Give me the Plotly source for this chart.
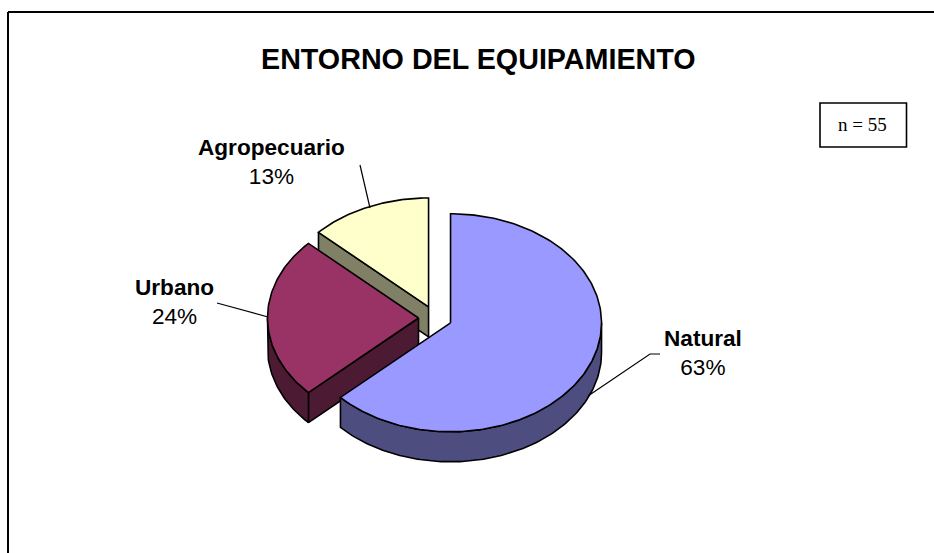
import numpy as np
import plotly.graph_objects as go

categories = ["Natural", "Urbano", "Agropecuario"]
values = [63, 24, 13]
top_colors = ["#9999FF", "#993366", "#FFFFCC"]
side_colors = ["#4D4D80", "#4D1A33", "#808066"]
title_text = "ENTORNO DEL EQUIPAMIENTO"
note_text = "n = 55"

# Pie geometry on a pixel-like data axis
CX, CY, RX, RY, DEPTH, PULL = 435.2, 318, 151, 109, 30, 16.7
LINE = dict(color="black", width=1.6)

def pt(c, a):
    r = np.radians(a)
    return c[0] + RX * np.sin(r), c[1] - RY * np.cos(r)

def arc(c, a0, a1):
    ang = np.linspace(a0, a1, max(int(abs(a1 - a0)), 2) + 1)
    return pt(c, ang)

fig = go.Figure()

def poly(x, y, color, name):
    fig.add_trace(go.Scatter(x=list(x), y=list(y), mode="lines", fill="toself",
                             fillcolor=color, line=LINE, name=name,
                             hoverinfo="name", showlegend=False))

# Slices are painted back to front: last slice first
total = sum(values)
edges = np.cumsum([0] + values) / total * 360
order = [2, 1, 0]
for i in order:
    a0, a1 = edges[i], edges[i + 1]
    mid = np.radians((a0 + a1) / 2)
    c = (CX + PULL * np.sin(mid), CY - PULL * RY / RX * np.cos(mid))
    name = categories[i]
    # cut face at the slice's starting edge, when it faces the viewer
    if 180 < a0 < 360:
        ex, ey = pt(c, a0)
        poly([c[0], ex, ex, c[0], c[0]],
             [c[1], ey, ey + DEPTH, c[1] + DEPTH, c[1]], side_colors[i], name)
    # outer rim: only the front half of the ellipse is visible
    r0, r1 = max(a0, 90), min(a1, 270)
    if r1 > r0:
        ax, ay = arc(c, r0, r1)
        poly(np.r_[ax, ax[::-1], ax[0]],
             np.r_[ay, ay[::-1] + DEPTH, ay[0]], side_colors[i], name)
    # top surface
    ax, ay = arc(c, a0, a1)
    poly(np.r_[c[0], ax, c[0]], np.r_[c[1], ay, c[1]], top_colors[i], name)

# Leader lines
leaders = [
    "M 588 396 L 650 354 L 660 354",
    "M 268 317 L 217 303",
    "M 370 208 L 360 165",
]
shapes = [dict(type="path", path=p, xref="x", yref="y",
               line=dict(color="black", width=1.2)) for p in leaders]
# Chart frame (top and left only are inside the picture) and note box
shapes += [
    dict(type="line", xref="x", yref="y", x0=8, y0=12, x1=934, y1=12,
         line=dict(color="black", width=2)),
    dict(type="line", xref="x", yref="y", x0=8, y0=12, x1=8, y1=553,
         line=dict(color="black", width=2)),
    dict(type="rect", xref="x", yref="y", x0=820, y0=103, x1=906.5, y1=147,
         line=dict(color="black", width=1.6)),
]

label_pos = [(703, 353), (174, 302), (271, 162)]
annotations = [
    dict(x=x, y=y, xref="x", yref="y", showarrow=False, align="center",
         text=f"<b>{n}</b><br>{v}%",
         font=dict(family="Liberation Sans", size=22.6, color="black"))
    for (x, y), n, v in zip(label_pos, categories, values)
]
annotations += [
    dict(x=478, y=59, xref="x", yref="y", showarrow=False,
         text=f"<b>{title_text}</b>",
         font=dict(family="Liberation Sans", size=28.7, color="black")),
    dict(x=862.5, y=124, xref="x", yref="y", showarrow=False, text=note_text,
         font=dict(family="Liberation Serif", size=19, color="black")),
]

fig.update_layout(
    width=934, height=553, margin=dict(l=0, r=0, t=0, b=0),
    paper_bgcolor="white", plot_bgcolor="white", showlegend=False,
    xaxis=dict(range=[0, 934], visible=False, fixedrange=True),
    yaxis=dict(range=[553, 0], visible=False, fixedrange=True),
    shapes=shapes, annotations=annotations,
)
fig.write_html("out.html", config=dict(displayModeBar=False),
               post_script="document.body.style.margin='0';document.body.style.overflow='hidden';")
